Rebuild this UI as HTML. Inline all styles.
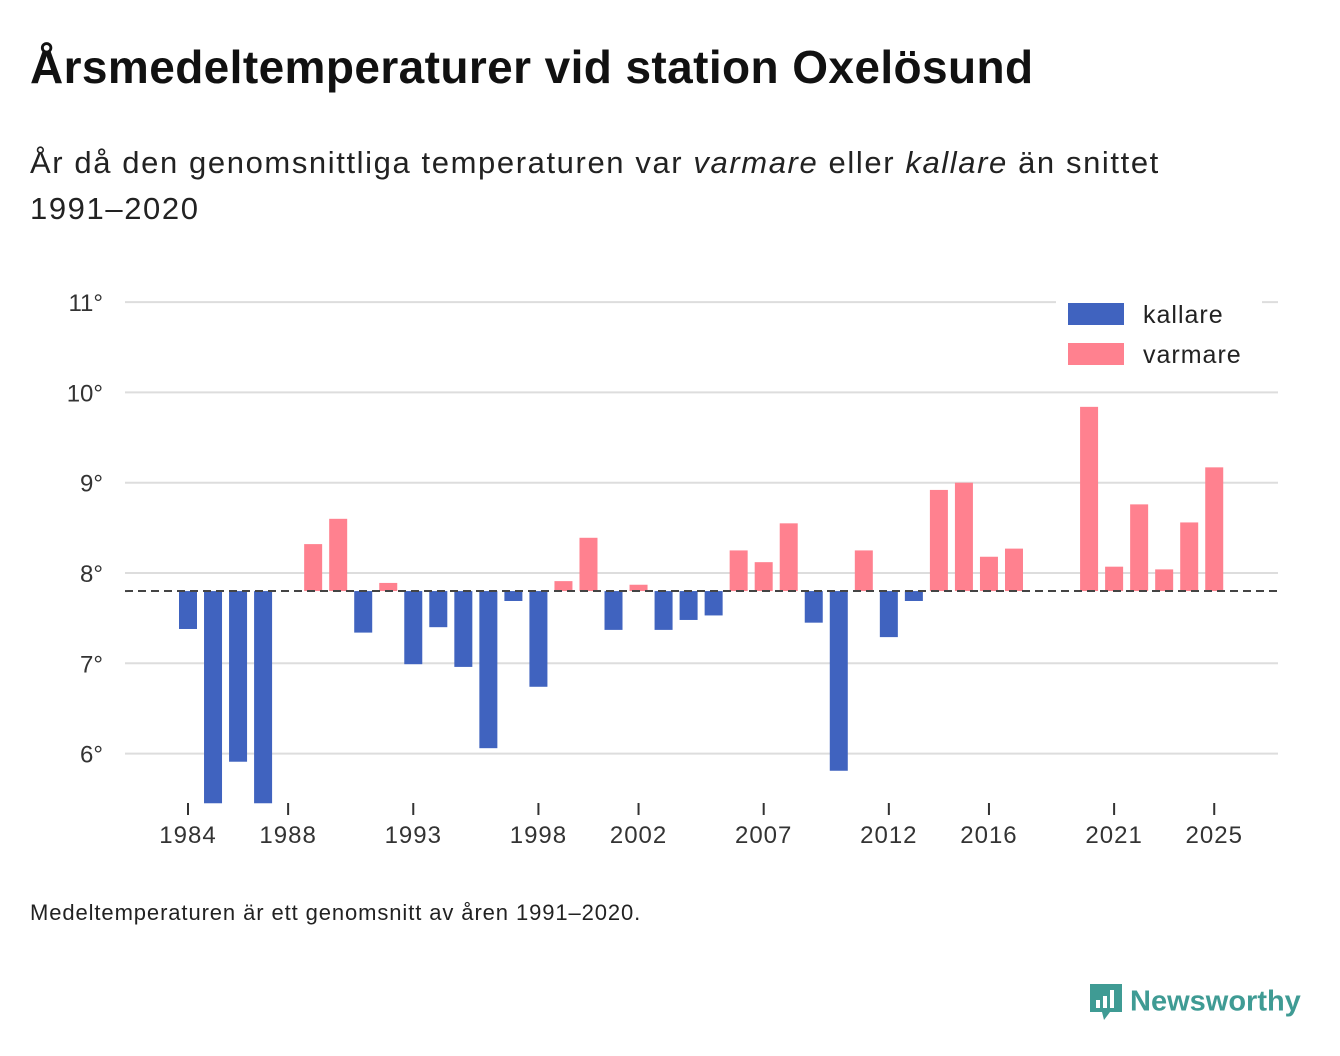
<!DOCTYPE html>
<html><head><meta charset="utf-8"><style>
body{margin:0;background:#fff;width:1340px;height:1056px;overflow:hidden;font-family:"Liberation Sans",sans-serif;color:#111;position:relative}
#t{position:absolute;left:30px;top:40px;font-size:46px;font-weight:bold;margin:0;letter-spacing:0.4px}
#s{position:absolute;left:30px;top:140px;font-size:31px;line-height:46px;color:#222;width:1250px;letter-spacing:1.6px}
#f{position:absolute;left:30px;top:900px;font-size:22px;color:#222;letter-spacing:0.9px}
#logo{position:absolute;left:1088px;top:982px;font-size:29px;font-weight:bold;color:#3f9b94}
svg{position:absolute;left:0;top:0}
</style></head><body>
<h1 id="t">Årsmedeltemperaturer vid station Oxelösund</h1>
<div id="s">År då den genomsnittliga temperaturen var <i>varmare</i> eller <i>kallare</i> än snittet<br>1991–2020</div>
<div id="f">Medeltemperaturen är ett genomsnitt av åren 1991–2020.</div>
<div id="logo"><svg width="36" height="42" style="position:static;vertical-align:middle;margin-right:6px" viewBox="0 0 36 42"><path d="M2 2h32v28H22l-6 8-2-8H2z" fill="#3f9b94"/><rect x="8" y="18" width="4" height="8" fill="#fff"/><rect x="15" y="14" width="4" height="12" fill="#fff"/><rect x="22" y="8" width="4" height="18" fill="#fff"/></svg>Newsworthy</div>
<svg id="chart" width="1340" height="1056"></svg>
<script>
const years=[1984,1985,1986,1987,1989,1990,1991,1992,1993,1994,1995,1996,1997,1998,1999,2000,2001,2002,2003,2004,2005,2006,2007,2008,2009,2010,2011,2012,2013,2014,2015,2016,2017,2020,2021,2022,2023,2024,2025];
const temps=[7.38,5.3,5.91,5.3,8.32,8.6,7.34,7.89,6.99,7.4,6.96,6.06,7.69,6.74,7.91,8.39,7.37,7.87,7.37,7.48,7.53,8.25,8.12,8.55,7.45,5.81,8.25,7.29,7.69,8.92,9.0,8.18,8.27,9.84,8.07,8.76,8.04,8.56,9.17];
const baseline=7.8;
const yTicks=[6,7,8,9,10,11];
const xTicks=[1984,1988,1993,1998,2002,2007,2012,2016,2021,2025];
const NS="http://www.w3.org/2000/svg",svg=document.getElementById('chart');
const y=v=>573-(v-8)*90.3, x=yr=>188+(yr-1984)*25.03, yMin=5.45;
function el(t,a,p){const e=document.createElementNS(NS,t);for(const k in a)e.setAttribute(k,a[k]);(p||svg).appendChild(e);return e;}
yTicks.forEach(t=>{
 const g=el('line',{x1:125,x2:1278,y1:y(t),y2:y(t),stroke:'#ddd','stroke-width':2});
 
 
 const l=el('text',{x:103,y:y(t)+9,'text-anchor':'end','font-size':24,fill:'#333'});l.textContent=t+'°';
 
 
});
xTicks.forEach(t=>{
 const k=el('line',{x1:x(t),x2:x(t),y1:803,y2:815,stroke:'#333','stroke-width':2});
 
 
 const l=el('text',{x:x(t),y:843,'text-anchor':'middle','font-size':24,fill:'#333','letter-spacing':1});l.textContent=t;
 
 
});
years.forEach((yr,i)=>{
 const v=Math.max(temps[i],yMin),a=y(Math.max(v,baseline)),b=y(Math.min(v,baseline));
 const r=el('rect',{x:x(yr)-9,y:a,width:18,height:Math.max(b-a,0.5),fill:temps[i]<baseline?'#4063bf':'#ff818f'});
 
 
});
const bl=el('line',{x1:125,x2:1278,y1:y(baseline),y2:y(baseline),stroke:'#444','stroke-width':2,'stroke-dasharray':'8,5'});


el('rect',{x:1056,y:296,width:206,height:80,fill:'#fff'});
[['kallare','#4063bf',303],['varmare','#ff818f',343]].forEach(([n,c,yy])=>{
 const g=el('g',{});
 
 
 el('rect',{x:1068,y:yy,width:56,height:22,fill:c},g);
 const t=el('text',{x:1143,y:yy+20,'font-size':25,fill:'#222','letter-spacing':1},g);t.textContent=n;
});
</script>
</body></html>
